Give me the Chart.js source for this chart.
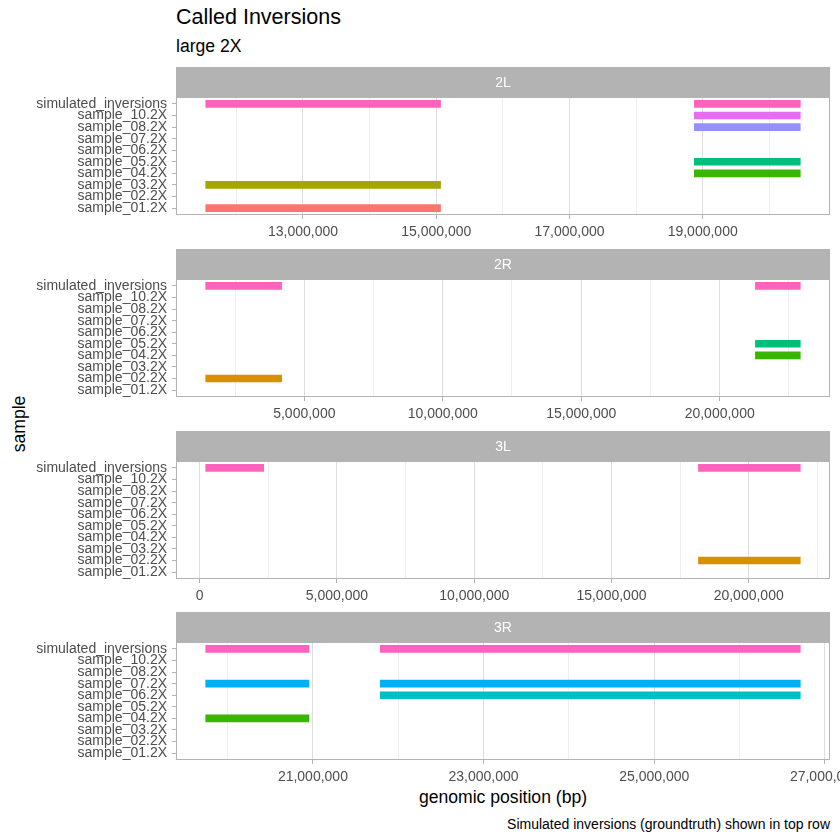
<!DOCTYPE html>
<html lang="en">
  <head>
    <meta charset="UTF-8" />
    <title>Called Inversions</title>
    <script src="https://cdn.jsdelivr.net/npm/chart.js"></script>
    <style>
      body { margin: 0; background: #fff; }
      #wrap { position: relative; width: 840px; height: 840px; font-family: "Liberation Sans", Arial, sans-serif; }
      .txt { position: absolute; white-space: nowrap; line-height: 1; color: #000; }
      canvas { position: absolute; left: 0; }
    </style>
  </head>
  <body>
    <div id="wrap">
      <div class="txt" style="left:176px; top:18px; font-size:21.5px; transform:translateY(-50%)">Called Inversions</div>
      <div class="txt" style="left:176px; top:47px; font-size:17.6px; transform:translateY(-50%)">large 2X</div>
      <div class="txt" style="left:503px; top:798px; font-size:17.6px; transform:translate(-50%,-50%)">genomic position (bp)</div>
      <div class="txt" style="left:20px; top:424px; font-size:17.6px; transform:translate(-50%,-50%) rotate(-90deg)">sample</div>
      <div class="txt" style="right:10px; top:824px; font-size:14px; transform:translateY(-50%)">Simulated inversions (groundtruth) shown in top row</div>
    </div>
    <script>
      // rows, top to bottom
      const samples = [
        "simulated_inversions", "sample_10.2X", "sample_08.2X", "sample_07.2X", "sample_06.2X",
        "sample_05.2X", "sample_04.2X", "sample_03.2X", "sample_02.2X", "sample_01.2X",
      ];
      const sampleColors = {
        "sample_01.2X": "#F8766D", "sample_02.2X": "#D89000", "sample_03.2X": "#A3A500",
        "sample_04.2X": "#39B600", "sample_05.2X": "#00BF7D", "sample_06.2X": "#00BFC4",
        "sample_07.2X": "#00B0F6", "sample_08.2X": "#9590FF", "sample_10.2X": "#E76BF3",
        "simulated_inversions": "#FF62BC",
      };

      const chroms = ["2L", "2R", "3L", "3R"];

      // labelled x breaks per panel
      const ticks2L = [13000000, 15000000, 17000000, 19000000];
      const ticks2R = [5000000, 10000000, 15000000, 20000000];
      const ticks3L = [0, 5000000, 10000000, 15000000, 20000000];
      const ticks3R = [21000000, 23000000, 25000000, 27000000];
      const allTicks = [ticks2L, ticks2R, ticks3L, ticks3R];

      // [sample, start, end]
      const calls2L = [
        ["simulated_inversions", 11540000, 15065000],
        ["simulated_inversions", 18875000, 20465000],
        ["sample_10.2X", 18875000, 20465000],
        ["sample_08.2X", 18875000, 20465000],
        ["sample_05.2X", 18875000, 20465000],
        ["sample_04.2X", 18875000, 20465000],
        ["sample_03.2X", 11540000, 15065000],
        ["sample_01.2X", 11540000, 15065000],
      ];
      const calls2R = [
        ["simulated_inversions", 1440000, 4180000],
        ["simulated_inversions", 21290000, 22910000],
        ["sample_05.2X", 21290000, 22910000],
        ["sample_04.2X", 21290000, 22910000],
        ["sample_02.2X", 1440000, 4180000],
      ];
      const calls3L = [
        ["simulated_inversions", 218000, 2330000],
        ["simulated_inversions", 18170000, 21880000],
        ["sample_02.2X", 18170000, 21880000],
      ];
      const calls3R = [
        ["simulated_inversions", 19744000, 20953000],
        ["simulated_inversions", 21789000, 26711000],
        ["sample_07.2X", 19744000, 20953000],
        ["sample_07.2X", 21789000, 26711000],
        ["sample_06.2X", 21789000, 26711000],
        ["sample_04.2X", 19744000, 20953000],
      ];
      const allCalls = [calls2L, calls2R, calls3L, calls3R];

      const panelTop = [67, 249, 431, 612];

      Chart.defaults.font.family = "'Liberation Sans', Arial, sans-serif";
      Chart.defaults.animation = false;

      // grey strip + full panel border
      const facetPlugin = {
        id: "facet",
        beforeDraw(chart, args, opts) {
          const { ctx, chartArea: a } = chart;
          ctx.save();
          ctx.fillStyle = "#B3B3B3";
          ctx.fillRect(a.left, 0, a.right - a.left, a.top);
          ctx.fillStyle = "#fff";
          ctx.font = "14px 'Liberation Sans', Arial, sans-serif";
          ctx.textAlign = "center";
          ctx.textBaseline = "middle";
          ctx.fillText(opts.label, (a.left + a.right) / 2, a.top / 2 + 1);
          ctx.restore();
        },
        afterDraw(chart) {
          const { ctx, chartArea: a } = chart;
          ctx.save();
          ctx.strokeStyle = "#B3B3B3";
          ctx.lineWidth = 1;
          ctx.strokeRect(Math.round(a.left) + 0.5, Math.round(a.top) + 0.5,
            Math.round(a.right - a.left) - 1, Math.round(a.bottom - a.top) - 1);
          ctx.restore();
        },
      };

      chroms.forEach((chrom, i) => {
        const calls = allCalls[i];
        const majors = allTicks[i];
        const half = (majors[1] - majors[0]) / 2;
        const isMajor = (v) => majors.includes(v);
        const lo = Math.min(...calls.map((c) => c[1]));
        const hi = Math.max(...calls.map((c) => c[2]));
        const pad = (hi - lo) * 0.05;

        const canvas = document.createElement("canvas");
        canvas.style.top = panelTop[i] + "px";
        canvas.style.width = "840px";
        canvas.style.height = "172px";
        document.getElementById("wrap").appendChild(canvas);

        const present = samples.filter((s) => calls.some((c) => c[0] === s));
        const datasets = present.map((s) => ({
          label: s,
          backgroundColor: sampleColors[s],
          data: calls.filter((c) => c[0] === s).map((c) => ({ x: [c[1], c[2]], y: samples.indexOf(s) })),
          barThickness: 7,
          grouped: false,
          borderWidth: 0,
        }));

        new Chart(canvas.getContext("2d"), {
          type: "bar",
          data: { datasets },
          plugins: [facetPlugin],
          options: {
            indexAxis: "y",
            responsive: false,
            layout: { autoPadding: false, padding: { top: 30, right: 10, left: 0, bottom: 0 } },
            plugins: { legend: { display: false }, tooltip: { enabled: false }, facet: { label: chrom } },
            scales: {
              x: {
                type: "linear",
                min: lo - pad,
                max: hi + pad,
                border: { display: false },
                afterBuildTicks: (axis) => {
                  const ticks = [];
                  for (let k = Math.ceil((axis.min - majors[0]) / half); majors[0] + k * half <= axis.max; k++) {
                    ticks.push({ value: majors[0] + k * half });
                  }
                  axis.ticks = ticks;
                },
                afterFit: (axis) => {
                  axis.height = 24;
                  axis.paddingLeft = 0;
                  axis.paddingRight = 0;
                },
                grid: {
                  color: "#DEDEDE",
                  lineWidth: (c) => (c.tick && isMajor(c.tick.value) ? 1 : 0.5),
                  tickColor: (c) => (c.tick && isMajor(c.tick.value) ? "#B3B3B3" : "rgba(0,0,0,0)"),
                  tickLength: 4,
                },
                ticks: {
                  autoSkip: false,
                  maxRotation: 0,
                  padding: 5,
                  color: "#4D4D4D",
                  font: { size: 14 },
                  callback: (v) => (isMajor(v) ? v.toLocaleString("en-US") : ""),
                },
              },
              y: {
                type: "linear",
                min: -0.6,
                max: 9.6,
                reverse: true,
                offset: false,
                border: { display: false },
                afterBuildTicks: (axis) => { axis.ticks = samples.map((s, k) => ({ value: k })); },
                afterFit: (axis) => {
                  axis.width = 176;
                  axis.paddingTop = 0;
                  axis.paddingBottom = 0;
                },
                grid: { offset: false, drawOnChartArea: false, tickColor: "#B3B3B3", tickLength: 4 },
                ticks: {
                  autoSkip: false,
                  padding: 5,
                  color: "#4D4D4D",
                  font: { size: 14, lineHeight: 1 },
                  callback: (v) => samples[v],
                },
              },
            },
          },
        });
      });
    </script>
  </body>
</html>
